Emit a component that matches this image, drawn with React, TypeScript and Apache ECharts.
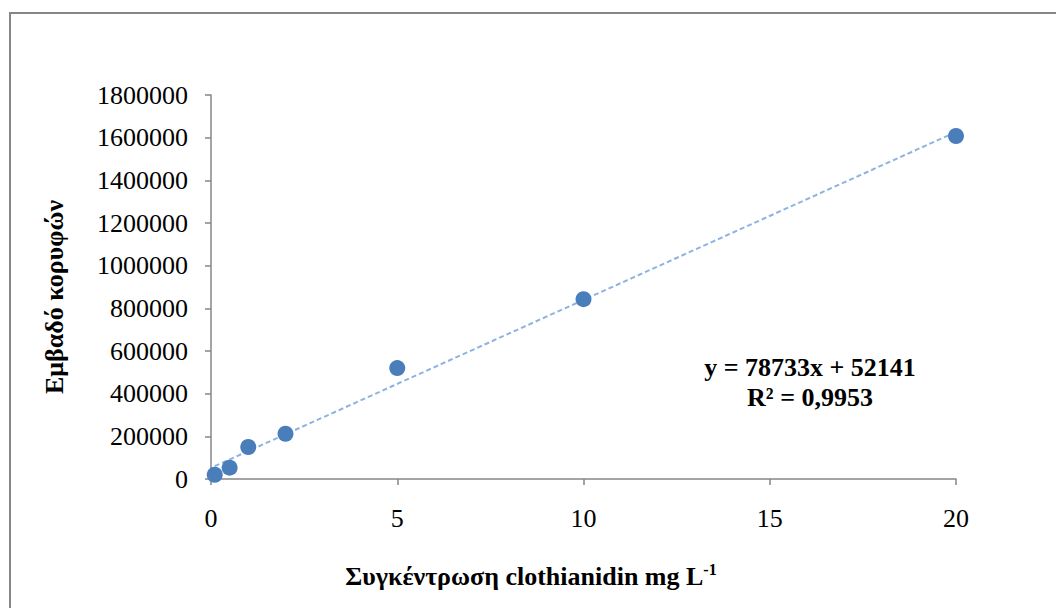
import React, { useEffect, useRef } from "react";
import * as echarts from "echarts";

const concentrations = [0.1, 0.5, 1, 2, 5, 10, 20];
const peakAreas = [20000, 53000, 150000, 212000, 520000, 843000, 1608000];
const trendSlope = 78733;
const trendIntercept = 52141;
const equationText = "y = 78733x + 52141";
const r2Text = "R² = 0,9953";
const xTitle = "Συγκέντρωση clothianidin mg L";
const xTitleSup = "-1";
const yTitle = "Εμβαδό κορυφών";

const FONT = "Liberation Serif";

export default function App() {
  const ref = useRef<HTMLDivElement>(null);
  useEffect(() => {
    if (!ref.current) return;
    const chart = echarts.init(ref.current, undefined, { renderer: "svg" });
    const xMin = Math.min(...concentrations);
    const xMax = Math.max(...concentrations);
    const trend = [
      [xMin, trendSlope * xMin + trendIntercept],
      [xMax, trendSlope * xMax + trendIntercept],
    ];
    const axisLine = { show: true, lineStyle: { color: "#868686", width: 1.5 } };
    const axisTick = { show: true, length: 6, inside: false, lineStyle: { color: "#868686", width: 1.5 } };
    chart.setOption({
      animation: false,
      backgroundColor: "#ffffff",
      textStyle: { fontFamily: FONT },
      grid: { left: 211, right: 100, top: 95, bottom: 129 },
      xAxis: {
        type: "value",
        min: 0,
        max: 20,
        interval: 5,
        axisLine,
        axisTick,
        splitLine: { show: false },
        axisLabel: {
          color: "#000",
          fontFamily: FONT,
          fontSize: 26,
          margin: 26,
          formatter: (v: number) => String(v),
        },
      },
      yAxis: {
        type: "value",
        min: 0,
        max: 1800000,
        interval: 200000,
        axisLine,
        axisTick,
        splitLine: { show: false },
        axisLabel: {
          color: "#000",
          fontFamily: FONT,
          fontSize: 26,
          margin: 23,
          formatter: (v: number) => String(v),
        },
      },
      series: [
        {
          type: "line",
          data: trend,
          showSymbol: false,
          symbol: "none",
          lineStyle: { color: "#8db3e2", width: 2, type: [5, 3] },
          z: 1,
        },
        {
          type: "scatter",
          data: concentrations.map((x, i) => [x, peakAreas[i]]),
          symbol: "circle",
          symbolSize: 16,
          itemStyle: { color: "#4a7ebb", opacity: 1 },
          z: 2,
        },
      ],
      graphic: [
        {
          type: "rect",
          shape: { x: 10, y: 13, width: 1100, height: 700 },
          style: { fill: "none", stroke: "#868686", lineWidth: 2 },
          z: -1,
          silent: true,
        },
        {
          type: "text",
          x: 810,
          y: 367,
          style: {
            text: equationText,
            font: `bold 26px ${FONT}`,
            fill: "#000",
            textAlign: "center",
            textVerticalAlign: "middle",
          },
        },
        {
          type: "text",
          x: 810,
          y: 397,
          style: {
            text: r2Text,
            font: `bold 26px ${FONT}`,
            fill: "#000",
            textAlign: "center",
            textVerticalAlign: "middle",
          },
        },
        {
          type: "text",
          x: 531,
          y: 576,
          style: {
            text: `{a|${xTitle}}{b|${xTitleSup}}`,
            textAlign: "center",
            textVerticalAlign: "middle",
            rich: {
              a: { fontFamily: FONT, fontWeight: "bold", fontSize: 26, fill: "#000", lineHeight: 30 },
              b: { fontFamily: FONT, fontWeight: "bold", fontSize: 16, fill: "#000", verticalAlign: "top", lineHeight: 30 },
            },
          },
        },
        {
          type: "text",
          x: 54,
          y: 297,
          rotation: Math.PI / 2,
          style: {
            text: yTitle,
            font: `bold 26px ${FONT}`,
            fill: "#000",
            textAlign: "center",
            textVerticalAlign: "middle",
          },
        },
      ],
    });
    return () => chart.dispose();
  }, []);
  return (
    <div
      ref={ref}
      style={{ position: "fixed", left: 0, top: 0, width: 1056, height: 608 }}
    />
  );
}
